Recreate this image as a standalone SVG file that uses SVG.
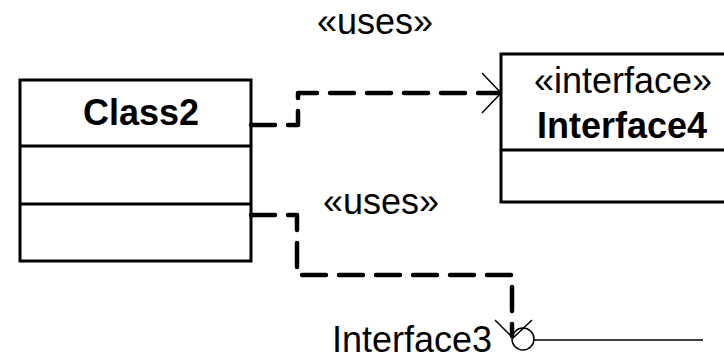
<svg xmlns="http://www.w3.org/2000/svg" width="724" height="355" viewBox="0 0 724 355">
<style>
.box{fill:#fff;stroke:#000;stroke-width:3}
.t{font-family:"Liberation Sans",Arial,sans-serif;font-size:36px;fill:#000}
.b{font-weight:bold}
.dash{fill:none;stroke:#000;stroke-width:4.5;stroke-dasharray:24 13;stroke-linecap:round;stroke-linejoin:round}
.thin{fill:none;stroke:#000;stroke-width:1.5}
</style>
<rect width="724" height="355" fill="#fff"/>
<g id="Class2">
<rect class="box" x="20" y="80" width="231" height="181"/>
<line class="box" x1="20" y1="146" x2="251" y2="146"/>
<line class="box" x1="20" y1="204" x2="251" y2="204"/>
<text class="t b" x="141" y="125" text-anchor="middle">Class2</text>
</g>
<g id="Interface4">
<rect class="box" x="501" y="54" width="240" height="148"/>
<line class="box" x1="501" y1="150" x2="741" y2="150"/>
<text class="t" x="623" y="93" text-anchor="middle">«interface»</text>
<text class="t b" x="622" y="138" text-anchor="middle">Interface4</text>
</g>
<g id="Interface3">
<circle class="thin" cx="523" cy="339" r="11"/>
<line class="thin" x1="534" y1="340" x2="703" y2="340"/>
<text class="t" x="492" y="352" text-anchor="end">Interface3</text>
</g>
<g id="connectors">
<path class="dash" d="M251 125 H298 V93 H498"/>
<path class="thin" d="M482 73 L501 93 L482 113"/>
<text class="t" x="375" y="34" text-anchor="middle">«uses»</text>
<path class="dash" d="M251 215 H297 V275 H512 V336"/>
<path class="thin" d="M495 320 L513 338 L532 320"/>
<text class="t" x="381" y="214" text-anchor="middle">«uses»</text>
</g>
</svg>
